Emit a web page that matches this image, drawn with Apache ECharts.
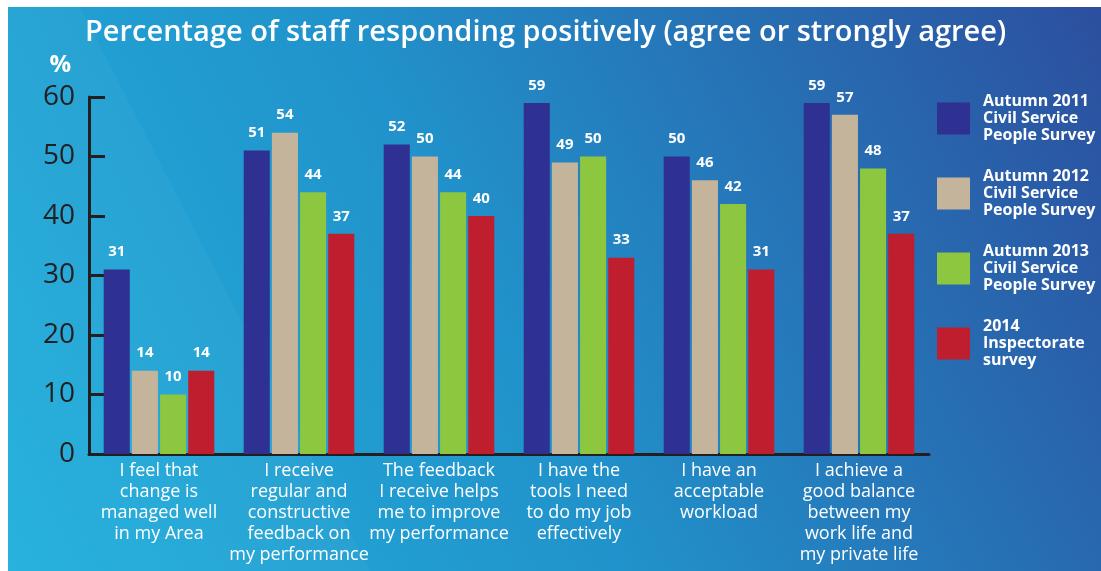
<!DOCTYPE html>
<html><head><meta charset="utf-8">
<script src="https://cdn.jsdelivr.net/npm/echarts@6/dist/echarts.min.js"></script>
<style>html,body{margin:0;padding:0;background:#fff}#c{width:1101px;height:571px}</style>
</head><body><div id="c"></div>
<script>
const categories = [
  "I feel that\nchange is\nmanaged well\nin my Area",
  "I receive\nregular and\nconstructive\nfeedback on\nmy performance",
  "The feedback\nI receive helps\nme to improve\nmy performance",
  "I have the\ntools I need\nto do my job\neffectively",
  "I have an\nacceptable\nworkload",
  "I achieve a\ngood balance\nbetween my\nwork life and\nmy private life"
];
const seriesNames = [
  "Autumn 2011\nCivil Service\nPeople Survey",
  "Autumn 2012\nCivil Service\nPeople Survey",
  "Autumn 2013\nCivil Service\nPeople Survey",
  "2014\nInspectorate\nsurvey"
];
const autumn2011 = [31, 51, 52, 59, 50, 59];
const autumn2012 = [14, 54, 50, 49, 46, 57];
const autumn2013 = [10, 44, 44, 50, 42, 48];
const inspect2014 = [14, 37, 40, 33, 31, 37];
const colors = ["#2e3192", "#c4b49c", "#8dc63f", "#be1e2d"];
const FONT = "'Open Sans', sans-serif";

const chart = echarts.init(document.getElementById('c'), null, {renderer: 'canvas'});
const values = [autumn2011, autumn2012, autumn2013, inspect2014];
chart.setOption({
  animation: false,
  color: colors,
  textStyle: {fontFamily: FONT},
  graphic: [
    {type: 'rect', z: -10, shape: {x: 8, y: 7, width: 1093, height: 564},
     style: {fill: new echarts.graphic.LinearGradient(0, 1, 1, 0, [
       {offset: 0, color: '#21b0dc'}, {offset: 0.45, color: '#2192cb'}, {offset: 1, color: '#2c4f9e'}])}},
    {type: 'polygon', z: -9, shape: {points: [[8, 7], [80, 7], [370, 571], [8, 571]]},
     style: {fill: 'rgba(255,255,255,0.035)'}}
  ],
  title: {
    text: 'Percentage of staff responding positively (agree or strongly agree)',
    left: 80, top: 13,
    textStyle: {color: '#fff', fontSize: 29, fontWeight: 600, fontFamily: FONT}
  },
  legend: {
    orient: 'vertical', left: 932, top: 88, itemWidth: 33, itemHeight: 32, itemGap: 24,
    icon: 'rect',
    data: seriesNames,
    textStyle: {color: '#fff', fontSize: 16, fontWeight: 'bold', lineHeight: 17, padding: [0, 0, 0, 8], fontFamily: FONT}
  },
  grid: {left: 89, right: 172, top: 97, bottom: 117, containLabel: false},
  xAxis: {
    type: 'category', data: categories,
    axisLine: {lineStyle: {color: '#231f20', width: 3}},
    axisTick: {inside: true, length: 7, lineStyle: {color: '#231f20', width: 3}},
    axisLabel: {color: '#fff', fontSize: 18, lineHeight: 21, margin: 6, interval: 0, fontFamily: FONT}
  },
  yAxis: {
    type: 'value', min: 0, max: 60, interval: 10,
    name: '%', nameLocation: 'end', nameGap: 20,
    nameTextStyle: {color: '#fff', fontSize: 24, fontWeight: 'bold', align: 'right', padding: [0, 18, 0, 0], fontFamily: FONT},
    axisLine: {show: true, lineStyle: {color: '#231f20', width: 3}},
    axisTick: {show: true, inside: true, length: 16, lineStyle: {color: '#231f20', width: 3}},
    splitLine: {show: false},
    axisLabel: {color: '#231f20', fontSize: 28, margin: 14, fontFamily: FONT}
  },
  series: values.map((v, i) => ({
    name: seriesNames[i], type: 'bar', data: v,
    barGap: '8%', barCategoryGap: '21%',
    itemStyle: {color: colors[i]},
    label: {show: true, position: 'top', distance: 10, color: '#fff', fontSize: 15, fontWeight: 'bold', fontFamily: FONT}
  }))
});
</script></body></html>
